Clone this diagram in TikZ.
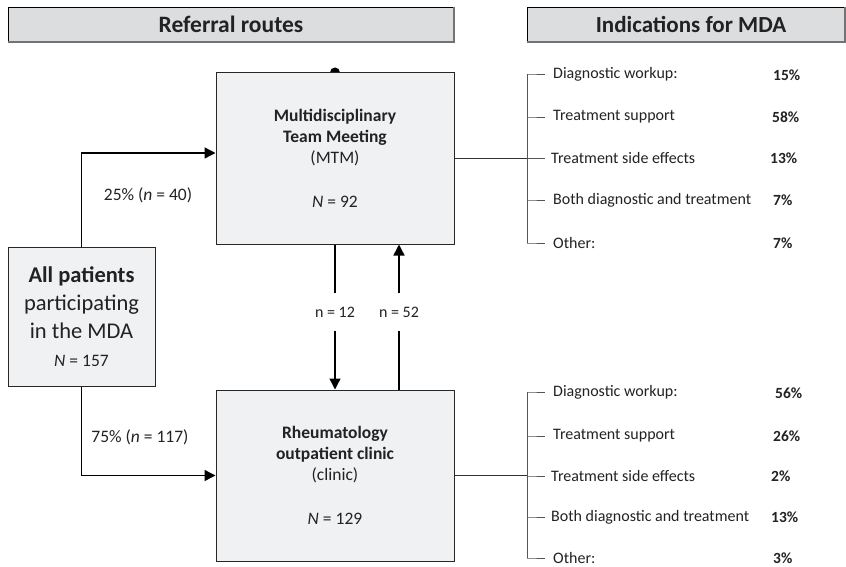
\documentclass[tikz,border=0pt]{standalone}
\usepackage{fontspec}
\setmainfont{Carlito}
\usetikzlibrary{arrows.meta,backgrounds,calc}
\definecolor{hdrfill}{HTML}{DCDDDF}
\definecolor{boxfill}{HTML}{F0F1F3}
\definecolor{txt}{HTML}{222222}
\definecolor{brkcol}{HTML}{555555}
\tikzset{
  hdrbox/.style={draw=black, line width=0.8pt, fill=hdrfill, minimum height=35pt, inner sep=0pt, text=txt, font=\fontsize{23.5}{27}\selectfont\bfseries},
  mainbox/.style={draw=black!85, line width=1pt, fill=boxfill, minimum width=238pt, minimum height=171pt, inner sep=0pt, align=center, text=txt, font=\fontsize{17.5}{21}\selectfont},
  allbox/.style={draw=black!85, line width=1pt, fill=boxfill, minimum width=147pt, minimum height=139pt, inner sep=0pt, align=center, text=txt, font=\fontsize{22.5}{28}\selectfont},
  arr/.style={draw=black, line width=1.4pt, -{Triangle[length=11pt,width=11pt]}},
  plainln/.style={draw=black, line width=1.2pt},
  lbl/.style={text=txt, font=\fontsize{17.5}{21}\selectfont, inner sep=0pt},
  nlbl/.style={text=txt, font=\fontsize{16}{19}\selectfont, inner sep=0pt, minimum height=37pt},
  ind/.style={anchor=west, inner xsep=8pt, inner ysep=0pt, text=txt, font=\fontsize{16}{19}\selectfont},
  pct/.style={anchor=west, inner sep=0pt, text=txt, font=\fontsize{15.5}{18}\selectfont\bfseries},
  brk/.style={draw=brkcol, line width=0.8pt},
  conn/.style={draw=black!80, line width=0.8pt},
  shadowln/.style={draw=black!55, line width=2pt}
}
\begin{document}
\begin{tikzpicture}[x=1pt,y=-1pt]
\useasboundingbox (0,0) rectangle (846,567);

% headers
\node[hdrbox, minimum width=446pt] (hdrL) at (231,24.5) {Referral routes};
\node[hdrbox, minimum width=318pt, font=\fontsize{23}{27}\selectfont\bfseries] (hdrR) at (686,24.5) {\hspace*{10pt}Indications for MDA};
\draw[shadowln] (hdrL.north east) -- (hdrL.south east) -- (hdrL.south west);
\draw[shadowln] (hdrR.north east) -- (hdrR.south east) -- (hdrR.south west);

% main boxes
\node[mainbox] (mtm) at (335,158.5) {\textbf{Multidisciplinary}\\\textbf{Team Meeting}\\(MTM)\\[23pt]\textit{N} = 92};
\node[mainbox] (clinic) at (335,475.5) {\textbf{Rheumatology}\\\textbf{outpatient clinic}\\(clinic)\\[23pt]\textit{N} = 129};
\node[allbox] (all) at (81.5,316.5) {\textbf{All patients}\\participating\\in the MDA\\{\fontsize{17.5}{21}\selectfont\textit{N} = 157}};

% dot on top of MTM
\begin{scope}[on background layer]
\fill[black] (mtm.north) circle (5pt);
\end{scope}

% referral arrows
\coordinate (mtmin) at ($(mtm.west)+(0,-5.5)$);
\draw[arr] (all.north) |- (mtmin);
\draw[arr] (all.south) |- (clinic.west);
\node[lbl] (l25) at (148,195) {25\% (\textit{n} = 40)};
\node[lbl] (l75) at (140,437) {75\% (\textit{n} = 117)};

% transfers between MTM and clinic
\node[nlbl] (n12) at (335,312) {n = 12};
\node[nlbl] (n52) at (399,312) {n = 52};
\draw[plainln] (mtm.south) -- (n12.north);
\draw[arr] (n12.south) -- (clinic.north);
\draw[plainln] (clinic.north -| n52) -- (n52.south);
\draw[arr] (n52.north) -- (mtm.south -| n52);

% indications for MTM
\coordinate (bt) at (527,158.5);
\node[ind] (t1) at (545,74) {Diagnostic workup:};
\node[ind] (t2) at (545,117) {Treatment support};
\node[ind] (t3) at (543,158.5) {Treatment side effects};
\node[ind] (t4) at (545,200) {Both diagnostic and treatment};
\node[ind] (t5) at (545,243) {Other:};
\node[pct] (p1) at (773,75) {15\%};
\node[pct] (p2) at (772,117) {58\%};
\node[pct] (p3) at (770,158.5) {13\%};
\node[pct] (p4) at (773,200) {7\%};
\node[pct] (p5) at (773,243) {7\%};
\draw[conn] (mtm.east) -- (bt);
\draw[brk] (bt |- t1) -- (bt |- t5);
\foreach \i in {1,...,5} { \draw[brk] (bt |- t\i) -- ([xshift=2pt]bt |- t\i) -- ++(16,0); }

% indications for clinic
\coordinate (bb) at (527,475.5);
\node[ind] (s1) at (545,392) {Diagnostic workup:};
\node[ind] (s2) at (545,436) {Treatment support};
\node[ind] (s3) at (543,476) {Treatment side effects};
\node[ind] (s4) at (543,517) {Both diagnostic and treatment};
\node[ind] (s5) at (545,558) {Other:};
\node[pct] (q1) at (775,393) {56\%};
\node[pct] (q2) at (773,436) {26\%};
\node[pct] (q3) at (771,476) {2\%};
\node[pct] (q4) at (771,517) {13\%};
\node[pct] (q5) at (773,558) {3\%};
\draw[conn] (clinic.east) -- (bb);
\draw[brk] (bb |- s1) -- (bb |- s5);
\foreach \i in {1,...,5} { \draw[brk] (bb |- s\i) -- ([xshift=2pt]bb |- s\i) -- ++(16,0); }
\end{tikzpicture}
\end{document}
